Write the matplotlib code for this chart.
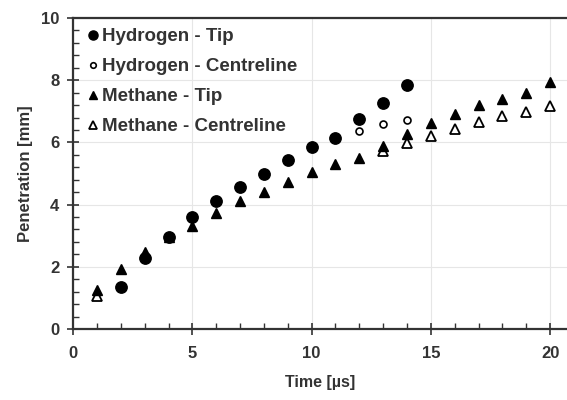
import matplotlib
matplotlib.use("Agg")
import matplotlib.pyplot as plt
from matplotlib.ticker import MultipleLocator

plt.rcParams['font.family'] = ['Liberation Sans', 'DejaVu Sans']

# data
h2_tip_t = [2, 3, 4, 5, 6, 7, 8, 9, 10, 11, 12, 13, 14]
h2_tip = [1.35, 2.29, 2.97, 3.61, 4.10, 4.55, 5.0, 5.42, 5.84, 6.15, 6.74, 7.26, 7.84]

h2_cl_t = [12, 13, 14]
h2_cl = [6.36, 6.58, 6.71]

ch4_tip_t = list(range(1, 21))
ch4_tip = [1.26, 1.93, 2.48, 2.97, 3.32, 3.74, 4.10, 4.42, 4.74, 5.06,
           5.32, 5.5, 5.9, 6.26, 6.61, 6.9, 7.19, 7.39, 7.58, 7.93]

ch4_cl_t = [1, 13, 14, 15, 16, 17, 18, 19, 20]
ch4_cl = [1.06, 5.71, 5.97, 6.2, 6.42, 6.65, 6.84, 6.97, 7.16]

fig = plt.figure(figsize=(5.67, 4.0), dpi=100)
ax = fig.add_axes([0.129, 0.1775, 0.871, 0.7775])

ax.plot(h2_tip_t, h2_tip, 'o', color='black', markersize=8.2, label='Hydrogen - Tip', zorder=3)
ax.plot(h2_cl_t, h2_cl, 'o', mfc='white', mec='black', mew=1.2, markersize=5,
        label='Hydrogen - Centreline', zorder=3)
ax.plot(ch4_tip_t, ch4_tip, '^', color='black', markersize=7.5, label='Methane - Tip', zorder=4)
ax.plot(ch4_cl_t, ch4_cl, '^', mfc='white', mec='black', mew=1.3, markersize=7,
        label='Methane - Centreline', zorder=3)

ax.set_xlim(0, 20.71)
ax.set_ylim(0, 10)
ax.xaxis.set_major_locator(MultipleLocator(5))
ax.xaxis.set_minor_locator(MultipleLocator(1))
ax.yaxis.set_major_locator(MultipleLocator(2))
ax.yaxis.set_minor_locator(MultipleLocator(0.4))
ax.set_xticks([0, 5, 10, 15, 20])

ax.grid(True, which='major', color='#e6e6e6', linewidth=0.8)
ax.set_axisbelow(True)

for s in ['left', 'bottom', 'top']:
    ax.spines[s].set_linewidth(1.6)
    ax.spines[s].set_color('#333333')
ax.spines['right'].set_visible(False)

ax.tick_params(which='major', direction='inout', length=8, width=1.2, color='#333333',
               labelsize=12, labelcolor='#333333')
ax.tick_params(axis='x', which='major', pad=8)
ax.tick_params(axis='y', which='major', pad=6)
ax.tick_params(which='minor', direction='in', length=4, width=1.0, color='#333333')
for lbl in ax.get_xticklabels() + ax.get_yticklabels():
    lbl.set_fontweight('bold')

ax.set_xlabel('Time [µs]', fontsize=11.5, fontweight='bold', color='#333333', labelpad=10)
ax.set_ylabel('Penetration [mm]', fontsize=12, fontweight='bold', color='#333333', labelpad=6)

leg = ax.legend(loc='upper left', frameon=False, handletextpad=0.0, handlelength=1.0,
                labelspacing=0.68, borderaxespad=0.15, markerscale=0.8,
                prop={'weight': 'bold', 'size': 13.5})
for t in leg.get_texts():
    t.set_color('#333333')

fig.savefig('out.png', dpi=100)
